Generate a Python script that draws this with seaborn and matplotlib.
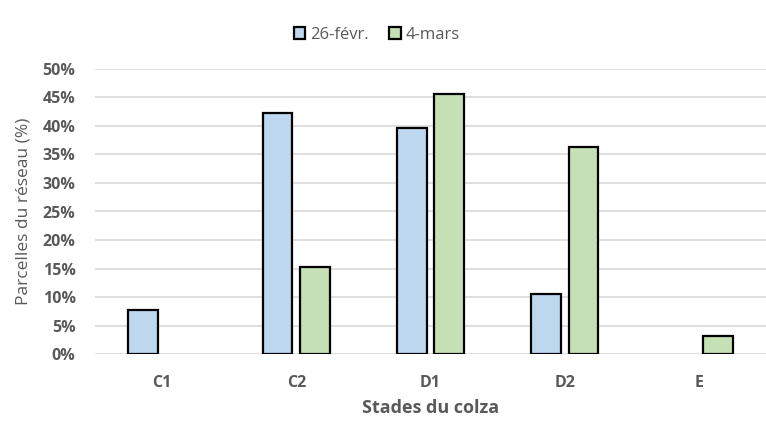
import numpy as np
import pandas as pd
import seaborn as sns
import matplotlib.pyplot as plt
from matplotlib.ticker import PercentFormatter

# Données
stades = ['C1', 'C2', 'D1', 'D2', 'E']
fev_26 = [0.077, 0.423, 0.396, 0.105, np.nan]
mars_4 = [np.nan, 0.153, 0.456, 0.363, 0.032]
series = ['26-févr.', '4-mars']

df = pd.DataFrame({
    'stade': stades * 2,
    'date': [series[0]] * len(stades) + [series[1]] * len(stades),
    'val': fev_26 + mars_4,
})

sns.set_style('white')
plt.rcParams['font.family'] = ['Open Sans', 'DejaVu Sans']
gris = '#595959'

fig = plt.figure(figsize=(7.66, 4.23), dpi=100)
ax = fig.add_axes([0.124, 0.163, 0.876, 0.674])

sns.barplot(data=df, x='stade', y='val', hue='date', order=stades,
            hue_order=series, palette=['#BDD7EE', '#C5E0B4'],
            width=0.56, gap=0.21, edgecolor='black', linewidth=1.6,
            saturation=1, errorbar=None, ax=ax)

ax.set_xlim(-0.5, 4.5)
ax.set_ylim(0, 0.5)
ax.set_yticks(np.arange(0, 0.51, 0.05))
ax.yaxis.set_major_formatter(PercentFormatter(1, decimals=0))
ax.grid(axis='y', color='#d9d9d9', linewidth=1.2)
ax.set_axisbelow(True)
for s in ax.spines.values():
    s.set_visible(False)
ax.tick_params(axis='both', length=0, labelcolor=gris, labelsize=11.5)
for lab in ax.get_xticklabels() + ax.get_yticklabels():
    lab.set_fontweight('bold')
ax.tick_params(axis='y', pad=14)
ax.tick_params(axis='x', pad=15)

ax.set_xlabel('Stades du colza', color=gris, fontsize=13, fontweight='bold', labelpad=6)
ax.set_ylabel('Parcelles du réseau (%)', color=gris, fontsize=12.5, labelpad=8)

ax.legend(loc='lower center', bbox_to_anchor=(0.42, 1.04), ncol=2, frameon=False,
          fontsize=12, handlelength=0.7, handleheight=0.7, handletextpad=0.3,
          columnspacing=1.2, labelcolor=gris)

fig.savefig('out.png', dpi=100)
